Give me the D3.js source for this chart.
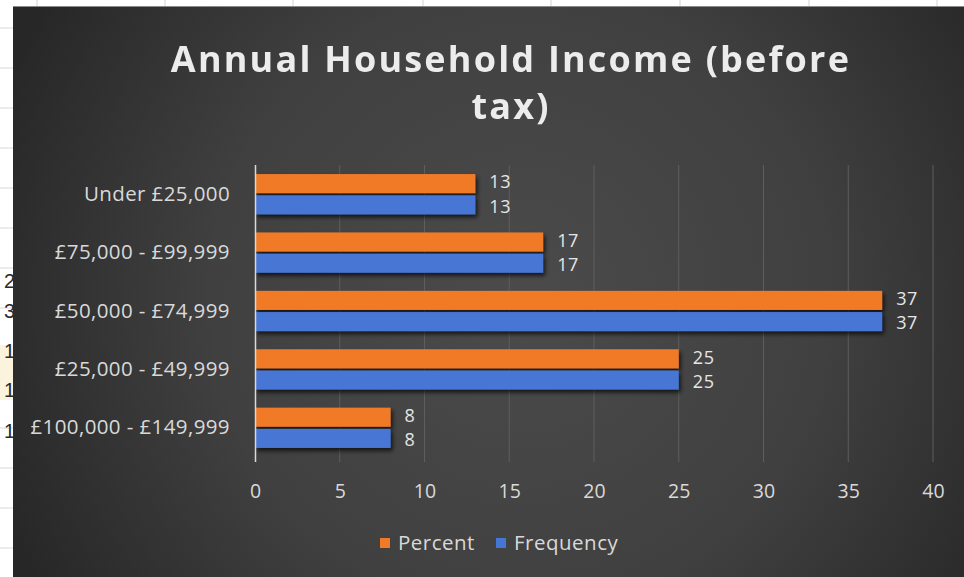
<!DOCTYPE html>
<html>
<head>
<meta charset="utf-8">
<script src="https://cdn.jsdelivr.net/npm/d3@7/dist/d3.min.js"></script>
<style>
  html, body { margin: 0; padding: 0; background: #ffffff; }
  svg { display: block; }
</style>
</head>
<body>
<svg id="chart" width="964" height="577"></svg>
<script>
// Income bands, listed top to bottom
const categories = ["Under £25,000", "£75,000 - £99,999", "£50,000 - £74,999", "£25,000 - £49,999", "£100,000 - £149,999"];
const seriesNames = ["Percent", "Frequency"];
const percentValues = [13, 17, 37, 25, 8];
const frequencyValues = [13, 17, 37, 25, 8];
const xTicks = [0, 5, 10, 15, 20, 25, 30, 35, 40];
const titleLines = ["Annual Household Income (before", "tax)"];

const seriesColors = { "Percent": "#f07a28", "Frequency": "#4676d4" };
const seriesValues = { "Percent": percentValues, "Frequency": frequencyValues };

const svg = d3.select("#chart");
const W = 964, H = 577;
const panel = { x: 13, y: 6 };
const labelFont = "Open Sans, sans-serif";
const labelSize = 20.5;

// Spreadsheet grid peeking around the chart object
const sheet = svg.append("g");
sheet.append("rect").attr("width", W).attr("height", H).attr("fill", "#ffffff");
[37, 165, 293, 423, 551, 680, 809, 937].forEach(x => {
  sheet.append("line").attr("x1", x).attr("x2", x).attr("y1", 0).attr("y2", panel.y)
    .attr("stroke", "#d4d4d4").attr("stroke-width", 1);
});
[28, 68, 108, 148, 188, 228, 268, 308, 348, 388, 428, 468, 508, 548].forEach(y => {
  sheet.append("line").attr("x1", 0).attr("x2", panel.x).attr("y1", y).attr("y2", y)
    .attr("stroke", "#d8d8d8").attr("stroke-width", 1);
});
sheet.append("rect").attr("x", 0).attr("y", 345).attr("width", panel.x).attr("height", 55).attr("fill", "#fbf3dc");
const cellDigits = [["2", 288], ["3", 318], ["1", 358], ["1", 397], ["1", 438]];
const defs = svg.append("defs");
defs.append("clipPath").attr("id", "sheetClip")
  .append("rect").attr("x", 0).attr("y", 0).attr("width", panel.x).attr("height", H);
sheet.append("g").attr("clip-path", "url(#sheetClip)").selectAll("text")
  .data(cellDigits).join("text")
  .attr("x", 4).attr("y", d => d[1])
  .attr("font-family", "Liberation Sans, Arial, sans-serif")
  .attr("font-size", 20).attr("fill", "#2a2a2a")
  .text(d => d[0]);

// Chart background
const grad = defs.append("radialGradient").attr("id", "bg")
  .attr("gradientUnits", "userSpaceOnUse")
  .attr("cx", 520).attr("cy", 300).attr("r", 560);
grad.append("stop").attr("offset", "0%").attr("stop-color", "#4b4b4b");
grad.append("stop").attr("offset", "55%").attr("stop-color", "#404040");
grad.append("stop").attr("offset", "100%").attr("stop-color", "#272727");

const shadow = defs.append("filter").attr("id", "barShadow")
  .attr("x", "-5%").attr("y", "-30%").attr("width", "115%").attr("height", "190%");
shadow.append("feDropShadow").attr("dx", 2).attr("dy", 3).attr("stdDeviation", 2)
  .attr("flood-color", "#000").attr("flood-opacity", 0.7);

const soft = defs.append("filter").attr("id", "soft");
soft.append("feGaussianBlur").attr("stdDeviation", 0.35);

svg.append("rect").attr("x", panel.x).attr("y", panel.y)
  .attr("width", W - panel.x).attr("height", H - panel.y)
  .attr("fill", "url(#bg)");
svg.append("line").attr("x1", panel.x).attr("x2", W).attr("y1", panel.y + 0.5).attr("y2", panel.y + 0.5)
  .attr("stroke", "#8a8a8a").attr("stroke-width", 1);

// Title
const title = svg.append("g").attr("filter", "url(#soft)");
title.selectAll("text").data(titleLines).join("text")
  .attr("x", 511).attr("y", (d, i) => 72 + i * 47)
  .attr("text-anchor", "middle")
  .attr("font-family", "Open Sans, sans-serif")
  .attr("font-weight", 700)
  .attr("font-size", 36)
  .attr("letter-spacing", 2.2)
  .attr("fill", "#ececec")
  .text(d => d);

// Scales
const plot = { left: 255, right: 933, top: 165, bottom: 457 };
const x = d3.scaleLinear().domain([0, 40]).range([plot.left, plot.right]);
const y = d3.scaleBand().domain(categories).range([plot.top, plot.bottom])
  .paddingInner(0.31).paddingOuter(0.155);
const ySub = d3.scaleBand().domain(seriesNames).range([0, y.bandwidth()]).paddingInner(0.1);

// Vertical gridlines
svg.append("g").selectAll("line").data(xTicks.slice(1)).join("line")
  .attr("x1", d => x(d)).attr("x2", d => x(d))
  .attr("y1", plot.top).attr("y2", plot.bottom + 5)
  .attr("stroke", "#5e5e5e").attr("stroke-width", 1);

// Bars
const groups = svg.append("g").selectAll("g").data(categories).join("g")
  .attr("transform", d => `translate(0,${y(d)})`);

seriesNames.forEach(s => {
  groups.append("rect")
    .attr("x", x(0))
    .attr("y", ySub(s))
    .attr("width", (d, i) => x(seriesValues[s][i]) - x(0))
    .attr("height", ySub.bandwidth())
    .attr("fill", seriesColors[s])
    .attr("filter", "url(#barShadow)");
});

// Value labels, nudged apart so the pair stays readable
seriesNames.forEach((s, k) => {
  groups.append("text")
    .attr("x", (d, i) => x(seriesValues[s][i]) + 14)
    .attr("y", ySub(s) + ySub.bandwidth() / 2 + (k === 0 ? -1.5 : 1.5))
    .attr("dy", "0.35em")
    .attr("font-family", labelFont)
    .attr("font-size", 18)
    .attr("letter-spacing", 0.6)
    .attr("fill", "#e6e6e6")
    .text((d, i) => seriesValues[s][i]);
});

// Category axis line
svg.append("line").attr("x1", x(0) + 0.5).attr("x2", x(0) + 0.5)
  .attr("y1", plot.top).attr("y2", plot.bottom + 5)
  .attr("stroke", "#d9d9d9").attr("stroke-width", 1.5);

// Category axis
const yAxis = svg.append("g").attr("transform", `translate(${x(0) - 25},0)`)
  .call(d3.axisLeft(y).tickSize(0).tickPadding(0));
yAxis.select(".domain").remove();
yAxis.selectAll("text")
  .attr("font-family", labelFont)
  .attr("font-size", labelSize)
  .attr("letter-spacing", 0.4)
  .attr("fill", "#d9d9d9");

// Value axis
const xAxis = svg.append("g").attr("transform", `translate(0,${plot.bottom})`)
  .call(d3.axisBottom(x).tickValues(xTicks).tickSize(0).tickPadding(27));
xAxis.select(".domain").remove();
xAxis.selectAll("text")
  .attr("font-family", labelFont)
  .attr("font-size", 19.5)
  .attr("fill", "#d9d9d9");

// Legend
const legend = svg.append("g").attr("transform", "translate(380,543)");
const legendItems = [{ name: "Percent", x: 0 }, { name: "Frequency", x: 116 }];
legendItems.forEach(item => {
  legend.append("rect").attr("x", item.x).attr("y", -5).attr("width", 10).attr("height", 10)
    .attr("fill", seriesColors[item.name]);
  legend.append("text").attr("x", item.x + 18).attr("y", 0).attr("dy", "0.35em")
    .attr("font-family", labelFont)
    .attr("font-size", labelSize)
    .attr("letter-spacing", 0.5)
    .attr("fill", "#d9d9d9")
    .text(item.name);
});
</script>
</body>
</html>
